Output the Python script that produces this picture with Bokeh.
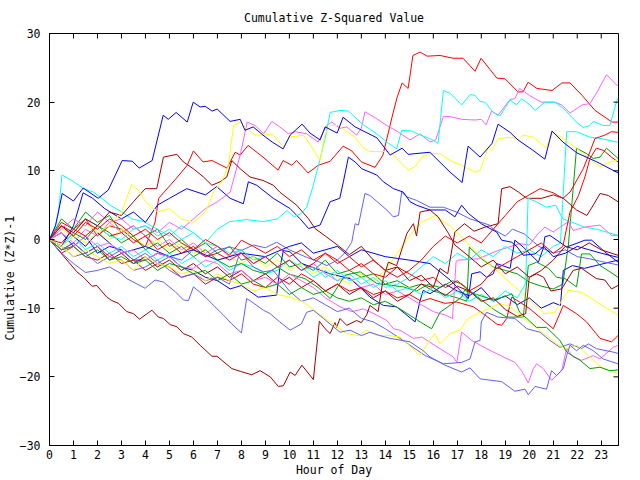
import math
from bokeh.plotting import figure
from bokeh.models import Range1d, FixedTicker, Title
from bokeh.embed import file_html
from bokeh.resources import INLINE

FONT = "DejaVu Sans Mono"

RED = "#ff0000"
DARKRED = "#a00000"
BLUE = "#0000ff"
SLATE = "#6060ff"
YELLOW = "#ffff00"
CYAN = "#00ffff"
MAGENTA = "#ff60ff"
GREEN = "#00a000"

x_ticks = list(range(24))
y_ticks = [-30, -20, -10, 0, 10, 20, 30]
X_MAX = 23.72

# (hour, cumulative value) pairs
blue_top = [(0,0),(0.25,2.0),(0.53,6.7),(1.0,5.6),(1.4,7.5),(2.03,6.0),(2.45,7.2),(3.03,11.5),(3.45,11.4),(3.74,10.4),(4.28,11.5),(4.74,18.1),(4.95,17.5),(5.28,18.5),(5.74,17.1),(5.99,20.0),(6.28,19.3),(6.49,19.4),(6.78,18.7),(6.99,19.0),(7.53,17.2),(7.95,17.5),(8.15,15.9),(8.49,16.4),(8.9,15.2),(9.28,14.2),(9.74,13.2),(10.03,15.2),(10.53,16.8),(10.86,15.5),(11.28,14.5),(11.49,16.4),(11.99,15.5),(12.24,17.8),(12.74,16.4),(13.65,14.8),(14.2,12.3),(14.7,13.3),(14.95,12.4),(15.53,12.6),(15.86,12.7),(16.7,9.8),(17.2,8.3),(17.45,13.6),(17.95,12.0),(18.45,14.0),(18.7,16.8),(19.2,15.6),(19.53,14.5),(20.15,13.0),(20.65,11.7),(20.95,15.8),(21.4,14.2),(21.99,12.6),(22.82,11.3),(23.7,9.7)]
blue_2 = [(0,0),(0.5,-1),(1,2),(1.4,6.8),(1.8,6.0),(2.3,4.5),(3,3),(3.5,4),(4,2.5),(4.5,5),(5,6),(5.72,7.4),(6.5,6.5),(6.97,7.7),(7.53,6.0),(8.08,5.2),(8.29,8.4),(8.64,7.9),(9.33,6.0),(10.03,4.5),(10.45,3.0),(10.8,1.6),(11.28,2.1),(11.7,5.5),(12.1,6.0),(12.25,8.4),(12.46,12.0),(12.74,11.3),(13.02,10.3),(13.64,9.4),(13.92,8.4),(14.34,7.4),(14.75,6.9),(15.03,5.5),(15.3,5.0),(15.86,4.3),(16.5,4.3),(16.9,3.3),(17.18,5.0),(17.46,3.8),(18.0,2.3),(18.36,1.6),(18.64,1.1),(18.85,-0.1),(19.27,-0.4),(19.5,-1.1),(19.75,-2.3),(20.24,-2.1),(20.6,-1.0),(21.0,-2.5),(21.5,-2.0),(22.0,-1.0),(22.5,-1.5),(23.0,-2.0),(23.7,-2.6)]
blue_3 = [(0,0),(0.5,2),(1,0.5),(1.5,-1),(2,1),(2.5,-0.5),(3,-2),(4,-1),(5,-2.5),(6,-1.5),(7,-3),(8,-2),(9,-2.5),(10,-1),(10.5,-0.5),(11,-2),(12,-1),(12.5,-2.5),(13,-1.5),(14,-2.5),(15,-3),(15.86,-3.5),(16.7,-5.9),(17.25,-7.9),(17.46,-8.6),(17.6,-5.0),(17.95,-4.7),(18.22,-5.5),(18.5,-5.0),(18.64,-3.5),(19.2,-4.2),(19.4,-0.1),(19.75,-1.1),(20.38,-3.3),(20.58,-1.3),(20.65,0.4),(20.86,0.6),(21.56,-1.1),(22.32,-0.1),(22.6,-0.1),(23.15,-1.8),(23.7,-3.3)]
blue_4 = [(0,0),(0.5,1),(1,-1),(1.5,0.5),(2,-2),(2.5,-1),(3,-1.5),(3.5,-3),(4,-3),(4.5,-2),(5,-2.5),(5.5,-4),(6,-4.5),(6.5,-5.5),(7,-6),(7.53,-7.2),(8.0,-6.7),(8.7,-8.4),(9.47,-8.1),(9.6,-4.2),(9.75,-1.6),(10.03,-1.8),(10.52,-3.5),(11.7,-5.0),(12.53,-5.7),(13.02,-7.2),(13.36,-8.4),(13.92,-9.6),(14.47,-9.8),(15.24,-12.0),(15.45,-8.9),(15.58,-7.4),(15.86,-7.9),(16.5,-6.5),(17.0,-7.5),(17.5,-8.2),(18.0,-7.0),(18.5,-9.0),(19.0,-8.2),(19.5,-9.5),(20.0,-8.5),(20.5,-10.0),(21.0,-9.2),(21.3,-9.6),(21.42,-4.5),(21.8,-3.8),(22.3,-4.2),(23.0,-3.6),(23.7,-3.0)]
slate_bot = [(0,0),(0.5,-2),(1,-3.5),(1.5,-4.8),(2,-4.5),(2.5,-4),(3,-5),(3.22,-5.7),(3.99,-7.1),(4.4,-5.9),(4.75,-6.2),(5.24,-7.6),(5.58,-8.8),(5.79,-8.9),(6.0,-6.9),(6.28,-7.7),(6.56,-8.6),(6.9,-9.8),(7.25,-11.0),(7.6,-12.3),(8.0,-13.6),(8.22,-8.6),(8.36,-8.9),(8.92,-10.3),(9.2,-10.8),(9.6,-12.0),(10.03,-13.2),(10.5,-12.3),(10.72,-10.6),(11.0,-10.3),(11.42,-11.5),(12.11,-13.5),(12.53,-13.2),(13.0,-14.0),(13.36,-13.5),(13.78,-14.0),(14.2,-14.4),(15.03,-14.9),(15.58,-16.2),(15.86,-17.1),(16.49,-18.3),(17.18,-19.3),(17.53,-18.7),(17.95,-20.3),(18.85,-20.7),(19.4,-22.1),(19.82,-21.8),(19.96,-22.6),(20.24,-21.4),(20.72,-21.8),(20.93,-19.1),(21.14,-19.8),(21.42,-18.8),(21.56,-16.9),(21.7,-15.4),(21.97,-16.2),(22.25,-15.4),(22.67,-16.2),(23.08,-17.4),(23.7,-18.1)]
slate_mid = [(0,0),(0.5,-1),(1,-2.5),(1.5,-2),(2,-3.5),(2.5,-2.5),(3,-3),(3.5,-4.5),(4,-4),(4.5,-3),(5,-4.5),(5.5,-5.5),(6,-5),(6.5,-6),(7,-5.5),(7.5,-6.5),(7.95,-1.8),(8.5,-4.0),(8.92,-4.7),(9.33,-4.5),(10,-7.5),(10.5,-9),(11,-8.5),(11.5,-9.5),(12,-10.5),(12.5,-10),(13,-11.5),(13.5,-12),(14,-13),(14.61,-14.4),(15.66,-16.9),(16.42,-18.1),(17.18,-17.9),(17.53,-17.4),(17.74,-14.9),(17.95,-14.7),(18.0,-12.0),(18.22,-10.6),(18.7,-11.3),(19.4,-11.5),(19.9,-13.0),(20.45,-13.5),(20.86,-14.7),(21.28,-15.7),(21.7,-15.2),(22.18,-15.9),(22.46,-15.2),(22.8,-15.9),(23.5,-16.4),(23.7,-16.6)]
slate_top = [(0,0),(0.5,-1.5),(1,-0.5),(1.5,-2),(2,-1),(2.5,-2.5),(3,-1.5),(3.5,-3),(4,-2),(4.5,-3.5),(5,-2.5),(5.5,-3),(6,-1.5),(6.5,-2.5),(7,-1.5),(7.53,-1.1),(8.0,-1.6),(8.5,-0.8),(9.0,-1.2),(9.47,-0.4),(10.0,-1.5),(10.72,-2.6),(11.2,-3.2),(11.56,-3.8),(12.0,-3.0),(12.3,-2.0),(12.6,-0.4),(12.74,2.3),(12.88,2.1),(13.15,6.7),(13.36,6.4),(14.06,4.3),(14.33,3.3),(14.55,3.5),(14.68,6.9),(14.9,6.2),(15.3,5.7),(15.86,4.7),(16.42,4.7),(16.97,4.0),(17.53,3.0),(18.35,2.1),(18.5,1.5),(19.0,0.5),(19.3,1.5),(19.8,0.8),(20.4,-1.0),(21.0,-2.0),(21.5,-1.5),(22.0,-2.5),(22.5,-2.8),(23.0,-3.2),(23.7,-3.7)]
red_top = [(0,0),(0.5,2.5),(1,1.5),(1.5,3),(2,0.5),(2.5,2),(3,1.5),(3.5,0),(4,-1),(4.4,2.5),(4.55,6.0),(5.26,8.8),(5.74,10.8),(6.0,12.9),(6.4,11.3),(6.78,11.5),(7.4,10.4),(7.74,12.7),(7.95,12.3),(8.28,13.7),(8.9,12.0),(9.53,10.1),(9.74,11.5),(10.1,10.8),(10.3,11.5),(10.78,9.7),(11.2,10.8),(11.7,11.4),(12.24,13.6),(12.6,12.9),(13.0,11.3),(13.57,10.5),(13.9,12.3),(14.32,18.4),(14.49,20.7),(14.7,22.8),(14.95,22.0),(15.15,26.8),(15.45,27.3),(15.74,26.7),(16.28,26.8),(16.82,26.4),(17.24,26.4),(17.74,24.5),(17.99,26.4),(18.65,23.5),(18.99,23.4),(19.53,21.5),(19.74,21.5),(19.95,22.9),(20.32,22.0),(20.95,21.7),(21.36,22.8),(21.7,22.8),(22.2,21.0),(22.74,18.8),(23.45,17.1),(23.7,17.1)]
red_r1 = [(0,0),(0.5,2),(1,0.5),(1.5,2.5),(2,1.5),(2.5,3),(3,2),(3.5,0.5),(4,1.5),(4.5,0),(5,1),(5.5,-0.5),(6,-1.5),(6.5,0),(7,-1),(7.5,-2.3),(8.0,-0.1),(8.5,-1),(9,-2),(9.5,-1),(10,-2.5),(10.5,-1.5),(11,-3),(11.5,-2),(12,-3.5),(12.5,-2.5),(13,-4),(13.5,-3),(14,-4.5),(14.5,-5.5),(15,-4.5),(15.5,-3),(16,-1),(16.5,0.5),(17,-0.5),(17.5,0.5),(18,-0.5),(18.5,1.5),(19,3.5),(19.5,5.5),(20,6.5),(20.45,7.4),(21,6.8),(21.4,6.0),(21.7,6.9),(22.25,10.3),(22.53,12.8),(22.74,14.7),(23.15,15.2),(23.43,15.7),(23.7,15.6)]
red_r2 = [(0,0),(0.5,-0.5),(1,1.5),(1.5,0.5),(2,2),(2.5,0.5),(3,1),(3.5,-0.5),(4,0.5),(4.5,-1.5),(5,-0.5),(5.5,-2),(6,-1),(6.5,-2.5),(7,-2),(7.5,-3),(8,-2),(8.5,-3.5),(9,-2.5),(9.5,-4),(10,-3),(10.5,-4.5),(11,-3.5),(11.5,-2),(12,-3),(12.5,-4.5),(13,-3.5),(13.5,-5),(14,-5.5),(14.5,-4),(15,-5),(15.5,-6),(16,-5.5),(16.5,-7),(17,-6),(17.5,-7.5),(18,-6.5),(18.5,-4.5),(19,-3.5),(19.5,-2.5),(20,-1.5),(20.5,-0.5),(21,-2),(21.4,-1.0),(21.7,4.0),(22.05,6.4),(22.32,9.1),(22.53,11.8),(22.8,13.3),(23.08,13.0),(23.43,12.0),(23.7,11.3)]
red_bot = [(0,0),(0.5,-2),(1,-1),(1.5,-2.5),(2,-3),(2.5,-2),(3,-3.5),(3.5,-3),(4,-4.5),(4.5,-3.5),(5,-4),(5.5,-5.5),(6,-5),(6.5,-6.5),(7,-5.5),(7.5,-6),(8,-5),(8.5,-6.5),(9,-7),(9.5,-5.5),(10,-6.5),(10.5,-5),(11,-6),(11.5,-7.5),(12,-6.5),(12.5,-7.5),(13,-7),(13.5,-8),(14,-7.5),(14.5,-8.5),(15,-8),(15.5,-9),(15.86,-8.6),(16.49,-9.3),(16.98,-9.1),(17.67,-9.8),(18.08,-10.8),(18.64,-12.3),(18.85,-12.5),(19.06,-11.5),(19.27,-8.4),(19.6,-9.1),(20.03,-10.1),(20.5,-11.5),(21.0,-13.0),(21.42,-9.6),(21.97,-10.8),(22.39,-12.0),(22.95,-14.4),(23.43,-14.9),(23.7,-14.0)]
darkred_a = [(0,0),(0.5,2),(1,1),(1.5,3),(2,2),(2.5,4),(3,3.5),(3.5,5.5),(3.99,7.4),(4.47,7.4),(4.75,12.0),(5.31,12.4),(5.58,11.3),(6.0,10.3),(6.42,9.1),(6.77,7.9),(7.11,8.4),(7.39,9.1),(7.6,11.5),(7.95,10.3),(8.36,9.1),(8.9,8.6),(9.33,7.9),(9.6,6.9),(10.3,5.0),(10.8,3.0),(11.07,1.6),(11.5,0.5),(12.0,-0.8),(12.5,-2.2),(13.0,-1.0),(13.5,-3.0),(14.0,-4.5),(14.5,-4.0),(15.0,-6.0),(15.5,-5.2),(16.0,-7.0),(16.5,-8.2),(17.0,-6.8),(17.5,-7.5),(18.0,-9.0),(18.5,-8.5),(19.0,-10.2),(19.5,-11.2),(19.85,-10.8),(20.0,-5.5),(20.3,-5.0),(20.6,-5.5),(20.9,-7.5),(21.35,-7.2),(21.83,-4.5),(22.18,-4.2),(22.8,-5.7),(23.15,-5.9),(23.43,-7.2),(23.7,-6.7)]
darkred_bot = [(0,0),(1.14,-4.7),(1.42,-5.5),(1.77,-6.8),(1.97,-6.7),(2.39,-8.4),(2.6,-8.9),(2.88,-9.3),(3.22,-10.5),(3.5,-10.8),(3.75,-11.6),(4.27,-10.3),(4.54,-11.3),(4.75,-11.5),(5.03,-12.4),(5.31,-12.7),(5.58,-13.7),(5.93,-14.2),(6.28,-15.4),(6.77,-17.0),(6.98,-17.0),(7.6,-18.8),(7.95,-19.2),(8.43,-19.7),(8.78,-19.1),(9.2,-20.0),(9.54,-21.4),(9.75,-21.3),(10.03,-19.3),(10.24,-19.8),(10.52,-18.3),(11.0,-20.4),(11.25,-11.9),(11.49,-13.0),(11.7,-13.7),(11.9,-12.1),(11.97,-12.8),(12.11,-11.5),(12.39,-12.5),(12.8,-11.8),(13.0,-12.1),(13.22,-11.0),(13.36,-9.6),(13.7,-10.5),(13.92,-5.5),(14.13,-3.3),(14.47,-3.8),(14.9,0.9),(15.17,2.3),(15.3,0.5),(15.45,4.0),(15.86,4.3),(16.2,3.3),(16.63,0.9),(16.9,-0.8),(17.5,-2.5),(18.0,-4.0),(18.5,-3.0),(19.0,-5.0),(19.5,-4.0),(20.0,-5.5),(20.5,-4.5),(21.0,-3.0),(21.5,-1.0),(22.0,-1.5),(22.5,-0.5),(23.0,-1.5),(23.7,-2.3)]
darkred_b = [(0,0),(0.5,-1.5),(1,-0.5),(1.5,-2),(2,-1),(2.5,-3),(3,-2),(3.5,-3.5),(4,-2.5),(4.5,-4),(5,-3),(5.5,-4.5),(6,-3.5),(6.5,-5),(7,-4),(7.5,-5.5),(8,-4.5),(8.5,-6),(9,-5),(9.5,-6.5),(10,-5.5),(10.5,-7),(11,-6),(11.5,-7.5),(12,-6.5),(12.5,-8),(13,-7),(13.5,-8.5),(14,-7.5),(14.5,-9),(15,-8),(15.5,-6.5),(16,-7),(16.28,-4.2),(16.6,-5.0),(16.9,1.1),(17.3,2.3),(17.7,1.2),(18.15,1.8),(18.7,2.3),(18.78,5.0),(18.85,7.4),(19.2,7.7),(19.55,6.9),(19.9,6.0),(20.52,6.0),(21.0,6.5),(21.42,6.0),(21.97,4.3),(22.4,3.5),(22.67,5.0),(22.95,6.7),(23.3,6.4),(23.7,5.5)]
magenta_top = [(0,0),(0.5,1.5),(1,3),(1.5,2),(2,4),(2.5,2.5),(3,3),(3.5,1.5),(4,2),(4.5,1),(5,2.5),(5.5,1.5),(6,3),(6.5,4.5),(7,5.5),(7.53,6.9),(7.95,12.3),(8.24,17.1),(8.57,16.6),(8.93,15.4),(9.27,17.2),(9.6,16.4),(9.96,15.4),(10.24,15.7),(10.72,15.4),(11.2,14.2),(11.56,16.6),(11.77,17.1),(12.1,16.2),(12.39,16.4),(12.8,15.2),(13.0,16.2),(13.15,18.6),(13.5,17.9),(14.06,16.6),(14.47,15.8),(15.03,14.5),(15.45,15.4),(15.86,14.2),(16.1,14.5),(16.42,17.9),(16.7,17.9),(17.18,17.5),(17.74,17.4),(18.0,17.5),(18.2,16.7),(18.43,18.7),(18.7,18.1),(19.2,20.4),(19.4,20.5),(19.6,22.0),(20.0,21.0),(20.5,20.0),(21.07,20.0),(21.35,19.6),(21.7,18.4),(22.2,19.6),(22.53,19.8),(22.8,21.3),(23.22,24.0),(23.64,22.5),(23.7,22.4)]
magenta_bot = [(0,0),(0.5,-1.5),(1,-1),(1.5,0.5),(2,-1),(2.5,-0.5),(3,-2),(3.5,-1.5),(4,-3),(4.5,-2),(5,-2.5),(5.5,-4),(6,-4.2),(6.5,-3),(7,-3.5),(7.5,-5),(8,-4.5),(8.5,-6),(9,-5.5),(9.5,-6.5),(10,-5),(10.5,-6),(11,-7),(11.5,-8.5),(12.11,-9.8),(12.6,-10.5),(13.09,-10.1),(13.64,-11.0),(14.06,-11.8),(14.34,-13.0),(14.61,-13.2),(15.17,-14.4),(15.52,-14.2),(16.28,-15.9),(16.83,-17.1),(16.98,-17.9),(17.18,-13.5),(17.6,-14.7),(18.22,-15.9),(18.92,-17.1),(19.4,-17.9),(19.68,-19.1),(19.96,-20.9),(20.17,-18.8),(20.31,-18.1),(20.58,-18.8),(20.93,-20.5),(21.35,-19.1),(21.56,-15.9),(21.83,-17.1),(22.18,-17.6),(22.67,-16.9),(22.95,-17.4),(23.5,-15.7),(23.7,-15.4)]
magenta_mid = [(0,0),(0.5,1),(1,-0.5),(1.5,1.5),(2,0.5),(2.5,2.5),(3,1),(3.5,2),(4,0.5),(4.5,-1),(5,0),(5.5,-1.5),(6,-0.5),(6.5,-2),(7,-1),(7.5,-2.5),(8,-1.5),(8.5,-3.5),(9,-2.5),(9.5,-4),(10,-3),(10.5,-4.5),(11,-3.5),(11.5,-5),(12,-6),(12.5,-5.5),(13,-7),(13.5,-6.5),(14,-8),(14.5,-7.5),(15,-8.5),(15.5,-9.5),(16,-10.5),(16.5,-11),(16.8,-11.5),(16.95,-3.2),(17.05,-3.0),(17.88,-2.8),(18.7,-1.6),(19.6,-0.6),(20.0,-0.8),(20.38,0.9),(20.65,1.8),(21.0,1.1),(21.63,2.6),(21.83,1.3),(22.3,1.8),(22.95,2.1),(23.43,0.6),(23.7,0.6)]
yellow_top = [(0,0),(0.5,-1),(1,0.5),(1.5,-0.5),(2,1),(2.5,2),(3,4),(3.43,8.0),(3.75,7),(4,5.5),(4.5,4),(5,4.5),(5.5,3),(6,2.5),(6.5,4),(6.84,6.9),(7.18,8.4),(7.46,10.8),(7.67,16.6),(7.95,17.1),(8.15,16.4),(8.57,15.2),(8.93,15.2),(9.27,15.4),(9.75,13.5),(10.03,14.9),(10.58,15.2),(10.93,13.5),(11.28,11.5),(11.49,15.4),(11.7,16.6),(12.05,16.6),(12.39,15.7),(12.74,14.9),(13.09,13.3),(13.36,12.8),(14.2,12.8),(14.76,10.8),(14.96,10.1),(15.24,10.6),(15.52,12.0),(15.86,12.5),(16.28,12.5),(16.7,11.5),(17.18,10.8),(17.74,9.8),(17.95,10.1),(18.3,13.5),(18.43,13.0),(18.7,14.7),(19.27,14.9),(19.55,14.5),(19.75,15.2),(20.17,14.9),(20.72,13.3),(20.93,15.7),(21.42,14.7),(21.97,13.3),(22.67,11.3),(22.95,10.6),(23.22,11.1),(23.7,11.6)]
yellow_bot = [(0,0),(0.5,-1),(1,-2.5),(1.5,-1.5),(2,-2.5),(2.5,-3.5),(3,-3),(3.5,-4.5),(4,-2.5),(4.5,-3.5),(5,-4),(5.5,-5),(6,-4.5),(6.5,-6),(7,-5),(7.5,-6),(8,-6.5),(8.5,-7.5),(9,-7),(9.5,-8),(10.03,-8.4),(10.58,-9.1),(11.14,-10.6),(11.7,-12.0),(12.39,-13.7),(12.88,-14.0),(13.22,-13.2),(13.64,-14.0),(14.2,-14.0),(14.61,-14.2),(15.45,-16.9),(15.8,-14.9),(16.07,-13.7),(16.28,-15.2),(16.7,-13.7),(17.11,-13.2),(17.46,-11.5),(17.95,-10.6),(18.3,-10.1),(18.78,-9.3),(19.2,-9.8),(19.9,-11.8),(20.3,-12.8),(21.14,-15.2),(21.56,-15.9),(21.97,-15.4),(22.25,-16.2),(22.67,-17.6),(23.08,-18.8),(23.7,-19.5)]
yellow_mid = [(0,0),(0.5,1.5),(1,0.5),(1.5,2.5),(2,1),(2.5,0),(3,1.5),(3.5,0.5),(4,-1),(4.5,0),(5,-1.5),(5.5,-0.5),(6,-2),(6.5,-1.5),(7,-3),(7.5,-2.5),(8,-3.5),(8.5,-2.5),(9,-4),(9.5,-3),(10,-4.5),(10.5,-3.5),(11,-5),(11.5,-4),(12,-5.5),(12.5,-6.5),(13,-5),(13.5,-6),(14,-4.5),(14.5,-2),(15,0.5),(15.5,2.5),(16.07,3.5),(16.77,1.8),(17.46,-0.6),(18.15,-3.0),(18.85,-5.2),(19.55,-7.4),(20.24,-9.6),(20.65,-10.8),(21.07,-10.6),(21.35,-8.9),(21.63,-7.4),(22.18,-7.7),(22.6,-8.6),(23.03,-9.6),(23.7,-11.0)]
cyan_top = [(0,0),(0.5,-1),(1,1),(1.5,3),(2,2),(2.5,0.5),(3,0),(3.5,1.5),(4,2),(4.5,0.5),(5,1.5),(5.5,0),(6,1),(6.5,-0.5),(7,1.5),(7.5,2.6),(8.2,2.9),(8.9,2.6),(9.5,3.0),(9.9,4.2),(10.2,3.3),(10.5,3.8),(10.72,4.7),(11.0,7.9),(11.25,11.3),(11.49,14.7),(11.7,18.5),(12.11,18.8),(12.46,18.7),(12.8,17.6),(13.08,16.7),(13.64,15.4),(14.06,14.2),(14.47,13.2),(14.68,15.9),(15.1,15.8),(15.45,15.2),(15.86,14.7),(16.2,14.0),(16.42,21.7),(16.7,21.3),(17.18,19.6),(17.53,21.1),(17.74,21.0),(17.95,20.1),(18.15,20.0),(18.5,18.5),(18.78,18.0),(19.2,20.3),(19.47,19.6),(19.68,20.5),(20.03,19.6),(20.24,18.8),(20.65,20.0),(21.07,20.0),(21.42,19.1),(21.97,17.1),(22.25,16.3),(22.53,16.6),(22.67,17.2),(23.08,16.6),(23.36,16.6),(23.64,20.1),(23.7,20.5)]
cyan_spike = [(0,0),(0.25,2),(0.38,4.0),(0.52,9.4),(0.93,8.6),(1.42,7.4),(1.83,6.9),(2.18,6.0),(2.53,5.0),(3.02,4.0),(3.43,3.0),(3.92,2.6),(4.5,1.5),(5.0,0.5),(5.5,2.0),(6.0,1.0),(6.5,-0.5),(7.0,-1.0),(7.5,-2.0),(8.0,-1.5),(8.5,-3),(9.0,-2.5),(9.5,-4),(10,-3),(10.5,-4.5),(11,-4),(11.5,-5.5),(12,-4.5),(12.5,-6),(13,-5.5),(13.5,-7),(14,-6),(14.5,-7.5),(15,-7),(15.5,-8),(16,-7),(16.5,-8.5),(17,-7.5),(17.5,-9),(18,-8),(18.5,-9),(19,-7.5),(19.5,-8.5),(19.85,-6.4),(19.95,6.0),(20.3,5.5),(20.7,4.7),(21.1,5.0),(21.4,3.0),(21.8,2.5),(22.3,1.8),(22.8,1.5),(23.3,1.0),(23.7,0.6)]
cyan_mid = [(0,0),(0.5,-1),(1,0.5),(1.5,-1.5),(2,-0.5),(2.5,-2),(3,-1),(3.5,-2.5),(4,-1.5),(4.5,-3),(5,-2),(5.5,-3.5),(6,-2.5),(6.5,-4),(7,-3),(7.5,-4.5),(8,-3.5),(8.5,-4),(9,-5),(9.5,-4.5),(10,-3),(10.5,-4),(11,-5.5),(11.5,-4.5),(12,-6),(12.5,-5),(13,-6.5),(13.5,-5.5),(14,-7),(14.5,-6.5),(15,-5.5),(15.5,-4),(16,-2.5),(16.5,-3.5),(17,-2),(17.5,-3),(18,-1.5),(18.5,-2.5),(19,-1),(19.5,-2),(20,-1.5),(20.5,-2.5),(21,-1),(21.3,-0.5),(21.56,15.7),(21.97,15.7),(22.53,14.9),(23.0,14.7),(23.64,14.2),(23.7,14.2)]
green_a = [(0,0),(0.5,3),(1,1.5),(1.5,4),(2,2.5),(2.5,3.5),(3,1),(3.5,2),(4,0.5),(4.5,1.5),(5,-1),(5.5,0),(6,-1.5),(6.5,-0.5),(7,-2),(7.5,-1),(8,-3),(8.5,-2.5),(9,-3.5),(9.5,-2),(10,-4),(10.5,-3.5),(11,-4.5),(11.5,-3),(12,-5),(12.5,-4.5),(13,-5.5),(13.5,-5),(14,-6.5),(14.5,-6),(15,-7),(15.5,-6.5),(16,-7.5),(16.5,-8),(17,-8.5),(17.4,-9),(17.5,-1.1),(18,-2.8),(18.5,-4),(19,-4.5),(19.5,-5),(20,-6.2),(20.5,-6.8),(21,-7.2),(21.4,-6.5),(21.63,-0.8),(21.83,7.4),(21.97,13.3),(22.39,12.5),(22.67,11.8),(22.95,12.0),(23.22,13.3),(23.64,12.0),(23.7,11.8)]
green_b = [(0,0),(0.5,-1),(1,1),(1.5,0),(2,2),(2.5,1),(3,-0.5),(3.5,0.5),(4,-1.5),(4.5,-0.5),(5,-2),(5.5,-1),(6,-2.5),(6.5,-1.5),(7,-3),(7.5,-4),(8,-3.5),(8.5,-4.5),(9,-5),(9.5,-4),(9.96,-5.0),(10.65,-5.7),(11.2,-7),(11.7,-8.6),(12.32,-5.2),(12.95,-4.7),(13.64,-6.4),(14.75,-6.9),(15.3,-7.5),(15.8,-6.5),(16.3,-7.0),(16.8,-6.0),(17.2,-6.5),(17.67,-7.9),(18.57,-10.3),(19.06,-11.3),(19.75,-11.3),(19.96,-3.8),(20.31,-3.3),(20.8,-4.2),(21.14,-5.5),(21.49,-5.7),(21.97,-6.9),(22.18,-2.1),(22.53,-2.1),(22.95,-3.8),(23.36,-4.7),(23.7,-5.5)]
green_c = [(0,0),(0.5,-1.5),(1,-1),(1.5,-2.5),(2,-1.5),(2.5,-3),(3,-2.5),(3.5,-3.5),(4,-3),(4.5,-4.5),(5,-3.5),(5.5,-4),(6,-5),(6.5,-4.5),(7,-6),(7.5,-5),(8,-6.5),(8.5,-6),(9,-7),(9.5,-6.5),(10,-8),(10.5,-7),(11,-8),(11.5,-7.5),(12,-8.5),(12.5,-9),(13,-8.5),(13.5,-9.5),(14,-9),(14.61,-10.1),(15.45,-12.0),(15.93,-13.0),(16.28,-10.6),(17.18,-8.4),(17.3,-7.4),(17.8,-8.0),(18.5,-8.8),(19.0,-8.3),(19.27,-7.9),(19.6,-10.6),(19.9,-11.5),(20.3,-12.8),(20.72,-12.8),(21.28,-14.7),(21.56,-16.4),(22.12,-17.6),(22.53,-18.8),(22.95,-18.6),(23.36,-19.1),(23.7,-19.0)]

series = [
    (red_top, RED), (green_a, GREEN), (blue_4, BLUE), (magenta_mid, MAGENTA),
    (cyan_mid, CYAN), (darkred_b, DARKRED), (slate_top, SLATE), (yellow_mid, YELLOW),
    (red_bot, RED), (green_b, GREEN), (blue_3, BLUE), (magenta_bot, MAGENTA),
    (cyan_spike, CYAN), (darkred_bot, DARKRED), (slate_mid, SLATE), (yellow_bot, YELLOW),
    (red_r2, RED), (green_c, GREEN), (blue_2, BLUE), (magenta_top, MAGENTA),
    (cyan_top, CYAN), (darkred_a, DARKRED), (slate_bot, SLATE), (yellow_top, YELLOW),
    (red_r1, RED), (blue_top, BLUE),
]

p = figure(width=640, height=480, x_range=Range1d(0, X_MAX), y_range=Range1d(-30, 30),
           output_backend="svg", toolbar_location=None,
           min_border_left=49, min_border_right=22, min_border_top=33, min_border_bottom=35)
p.background_fill_color = "white"
p.border_fill_color = "white"
p.grid.visible = False
p.outline_line_color = "black"
p.outline_line_width = 1

for data, color in series:
    p.line([d[0] for d in data], [d[1] for d in data], line_color=color, line_width=1)

# mirrored inward ticks on the top and right edges (5 px long)
tick_dy = 5 * 60.0 / 412
tick_dx = 5 * X_MAX / 569
p.segment(x0=x_ticks, y0=[30] * len(x_ticks), x1=x_ticks, y1=[30 - tick_dy] * len(x_ticks),
          line_color="black", line_width=1)
p.segment(x0=[X_MAX] * len(y_ticks), y0=y_ticks, x1=[X_MAX - tick_dx] * len(y_ticks), y1=y_ticks,
          line_color="black", line_width=1)

for ax, ticks in ((p.xaxis[0], x_ticks), (p.yaxis[0], y_ticks)):
    ax.ticker = FixedTicker(ticks=ticks)
    ax.major_tick_in = 5
    ax.major_tick_out = 0
    ax.minor_tick_line_color = None
    ax.axis_line_color = "black"
    ax.major_tick_line_color = "black"
    ax.major_label_text_font = FONT
    ax.major_label_text_font_size = "11.5px"
    ax.major_label_text_color = "black"
    ax.axis_label_text_font = FONT
    ax.axis_label_text_font_size = "11.5px"
    ax.axis_label_text_font_style = "normal"
    ax.axis_label_text_color = "black"

p.xaxis[0].major_label_standoff = 4
p.xaxis[0].axis_label = "Hour of Day"
p.xaxis[0].axis_label_standoff = 1
p.yaxis[0].major_label_standoff = 9

p.add_layout(Title(text="Cumulative (Z*Z)-1", align="left", offset=105, text_font=FONT,
                   text_font_size="11.5px", text_font_style="normal", text_color="black",
                   standoff=0), "left")

p.title.text = "Cumulative Z-Squared Value"
p.title.align = "center"
p.title.text_font = FONT
p.title.text_font_size = "11.5px"
p.title.text_font_style = "normal"
p.title.text_color = "black"
p.title.standoff = 17

open("out.html", "w").write(file_html(p, INLINE))
